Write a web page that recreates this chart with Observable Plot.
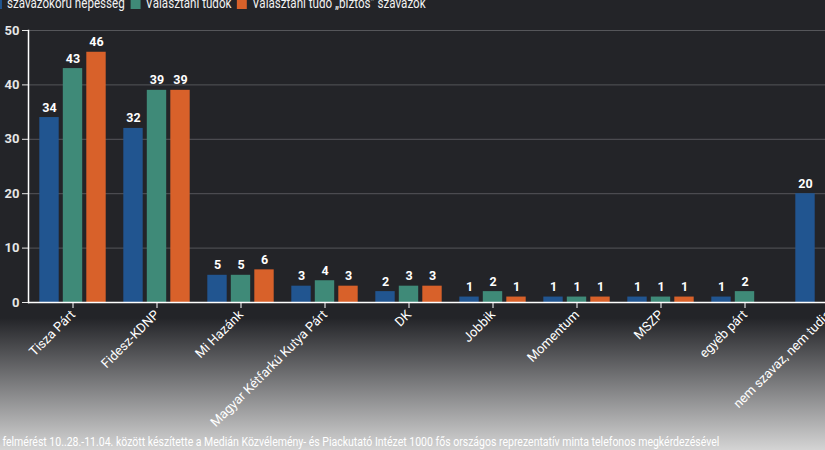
<!DOCTYPE html>
<html>
<head>
<meta charset="utf-8">
<script src="https://cdn.jsdelivr.net/npm/d3@7"></script>
<script src="https://cdn.jsdelivr.net/npm/@observablehq/plot@0.6"></script>
<style>
  html, body { margin: 0; padding: 0; }
  body {
    width: 825px; height: 450px; overflow: hidden; position: relative;
    background: linear-gradient(to bottom, #232428 0px, #232428 318px, #d4d4d4 450px);
    font-family: Roboto, sans-serif;
  }
  #chart { position: absolute; left: 0; top: 0; width: 873px; }
  #chart svg { max-width: none !important; }
  #legend {
    position: absolute; left: -8px; top: -5px; white-space: nowrap;
    color: #f2f2f2; font-size: 14px; line-height: 16px;
    transform: scaleX(0.83); transform-origin: 0 0;
  }
  #legend span.sw { display: inline-block; width: 12px; height: 11px; vertical-align: -1px; margin-right: 6px; }
  #legend span.it { margin-right: 7px; }
  #caption {
    position: absolute; left: -7px; top: 434px; white-space: nowrap;
    color: #ffffff; font-size: 12.5px; line-height: 16px;
    transform: scaleX(0.84); transform-origin: 0 0;
  }
</style>
</head>
<body>
<div id="chart"></div>
<div id="legend"></div>
<div id="caption">A felmérést 10..28.-11.04. között készítette a Medián Közvélemény- és Piackutató Intézet 1000 fős országos reprezentatív minta telefonos megkérdezésével</div>
<script>
const categories = ["Tisza Párt", "Fidesz-KDNP", "Mi Hazánk", "Magyar Kétfarkú Kutya Párt", "DK", "Jobbik", "Momentum", "MSZP", "egyéb párt", "nem szavaz, nem tudja"];
const seriesNames = ["szavazókorú népesség", "Választani tudók", "Választani tudó „biztos” szavazók"];
const seriesColors = ["#215590", "#3f8a78", "#d8612a"];
const populationValues = [34, 32, 5, 3, 2, 1, 1, 1, 1, 20];
const decidedValues = [43, 39, 5, 4, 3, 2, 1, 1, 2, null];
const certainValues = [46, 39, 6, 3, 3, 1, 1, 1, null, null];
const yTicks = [0, 10, 20, 30, 40, 50];

const seriesValues = [populationValues, decidedValues, certainValues];
const groupOffsets = [-23.5, 0, 23.5];

const legend = document.getElementById("legend");
seriesNames.forEach((n, i) => {
  const it = document.createElement("span");
  it.className = "it";
  it.innerHTML = `<span class="sw" style="background:${seriesColors[i]}"></span>${n}`;
  legend.appendChild(it);
});

const marks = [
  Plot.gridY(yTicks.slice(1), {stroke: "#55565a", strokeOpacity: 1, strokeWidth: 1}),
  Plot.axisY({ticks: yTicks, tickSize: 6, tickPadding: 3, fontSize: 13, fontWeight: "bold", fill: "#e6e6e6", stroke: "#e6e6e6", label: null}),
  Plot.axisX({tickRotate: -45, tickSize: 6, tickPadding: 4, fontSize: 13, fill: "#ffffff", stroke: "#ffffff", label: null})
];

seriesValues.forEach((vals, s) => {
  const data = categories.map((c, i) => ({category: c, value: vals[i]})).filter(d => d.value != null);
  marks.push(Plot.barY(data, {
    x: "category", y: "value", fill: seriesColors[s],
    insetLeft: 23.8, insetRight: 23.8, dx: groupOffsets[s]
  }));
  marks.push(Plot.text(data, {
    x: "category", y: "value", text: d => String(d.value), dx: groupOffsets[s], dy: -10,
    fill: "#ffffff", fontSize: 12.5, fontWeight: "bold"
  }));
});

marks.push(Plot.ruleY([0], {stroke: "#ffffff", strokeWidth: 1.5}));
marks.push(Plot.frame({anchor: "left", stroke: "#ffffff", strokeWidth: 1.5}));

const chart = Plot.plot({
  width: 873,
  height: 450,
  marginLeft: 28,
  marginRight: 0,
  marginTop: 30,
  marginBottom: 148,
  style: {background: "transparent", color: "#ffffff", fontFamily: "Roboto, sans-serif", overflow: "visible", maxWidth: "none"},
  x: {domain: categories, paddingInner: 0.2, paddingOuter: 0.1, label: null},
  y: {domain: [0, 50], label: null},
  marks
});
document.getElementById("chart").appendChild(chart);
</script>
</body>
</html>
